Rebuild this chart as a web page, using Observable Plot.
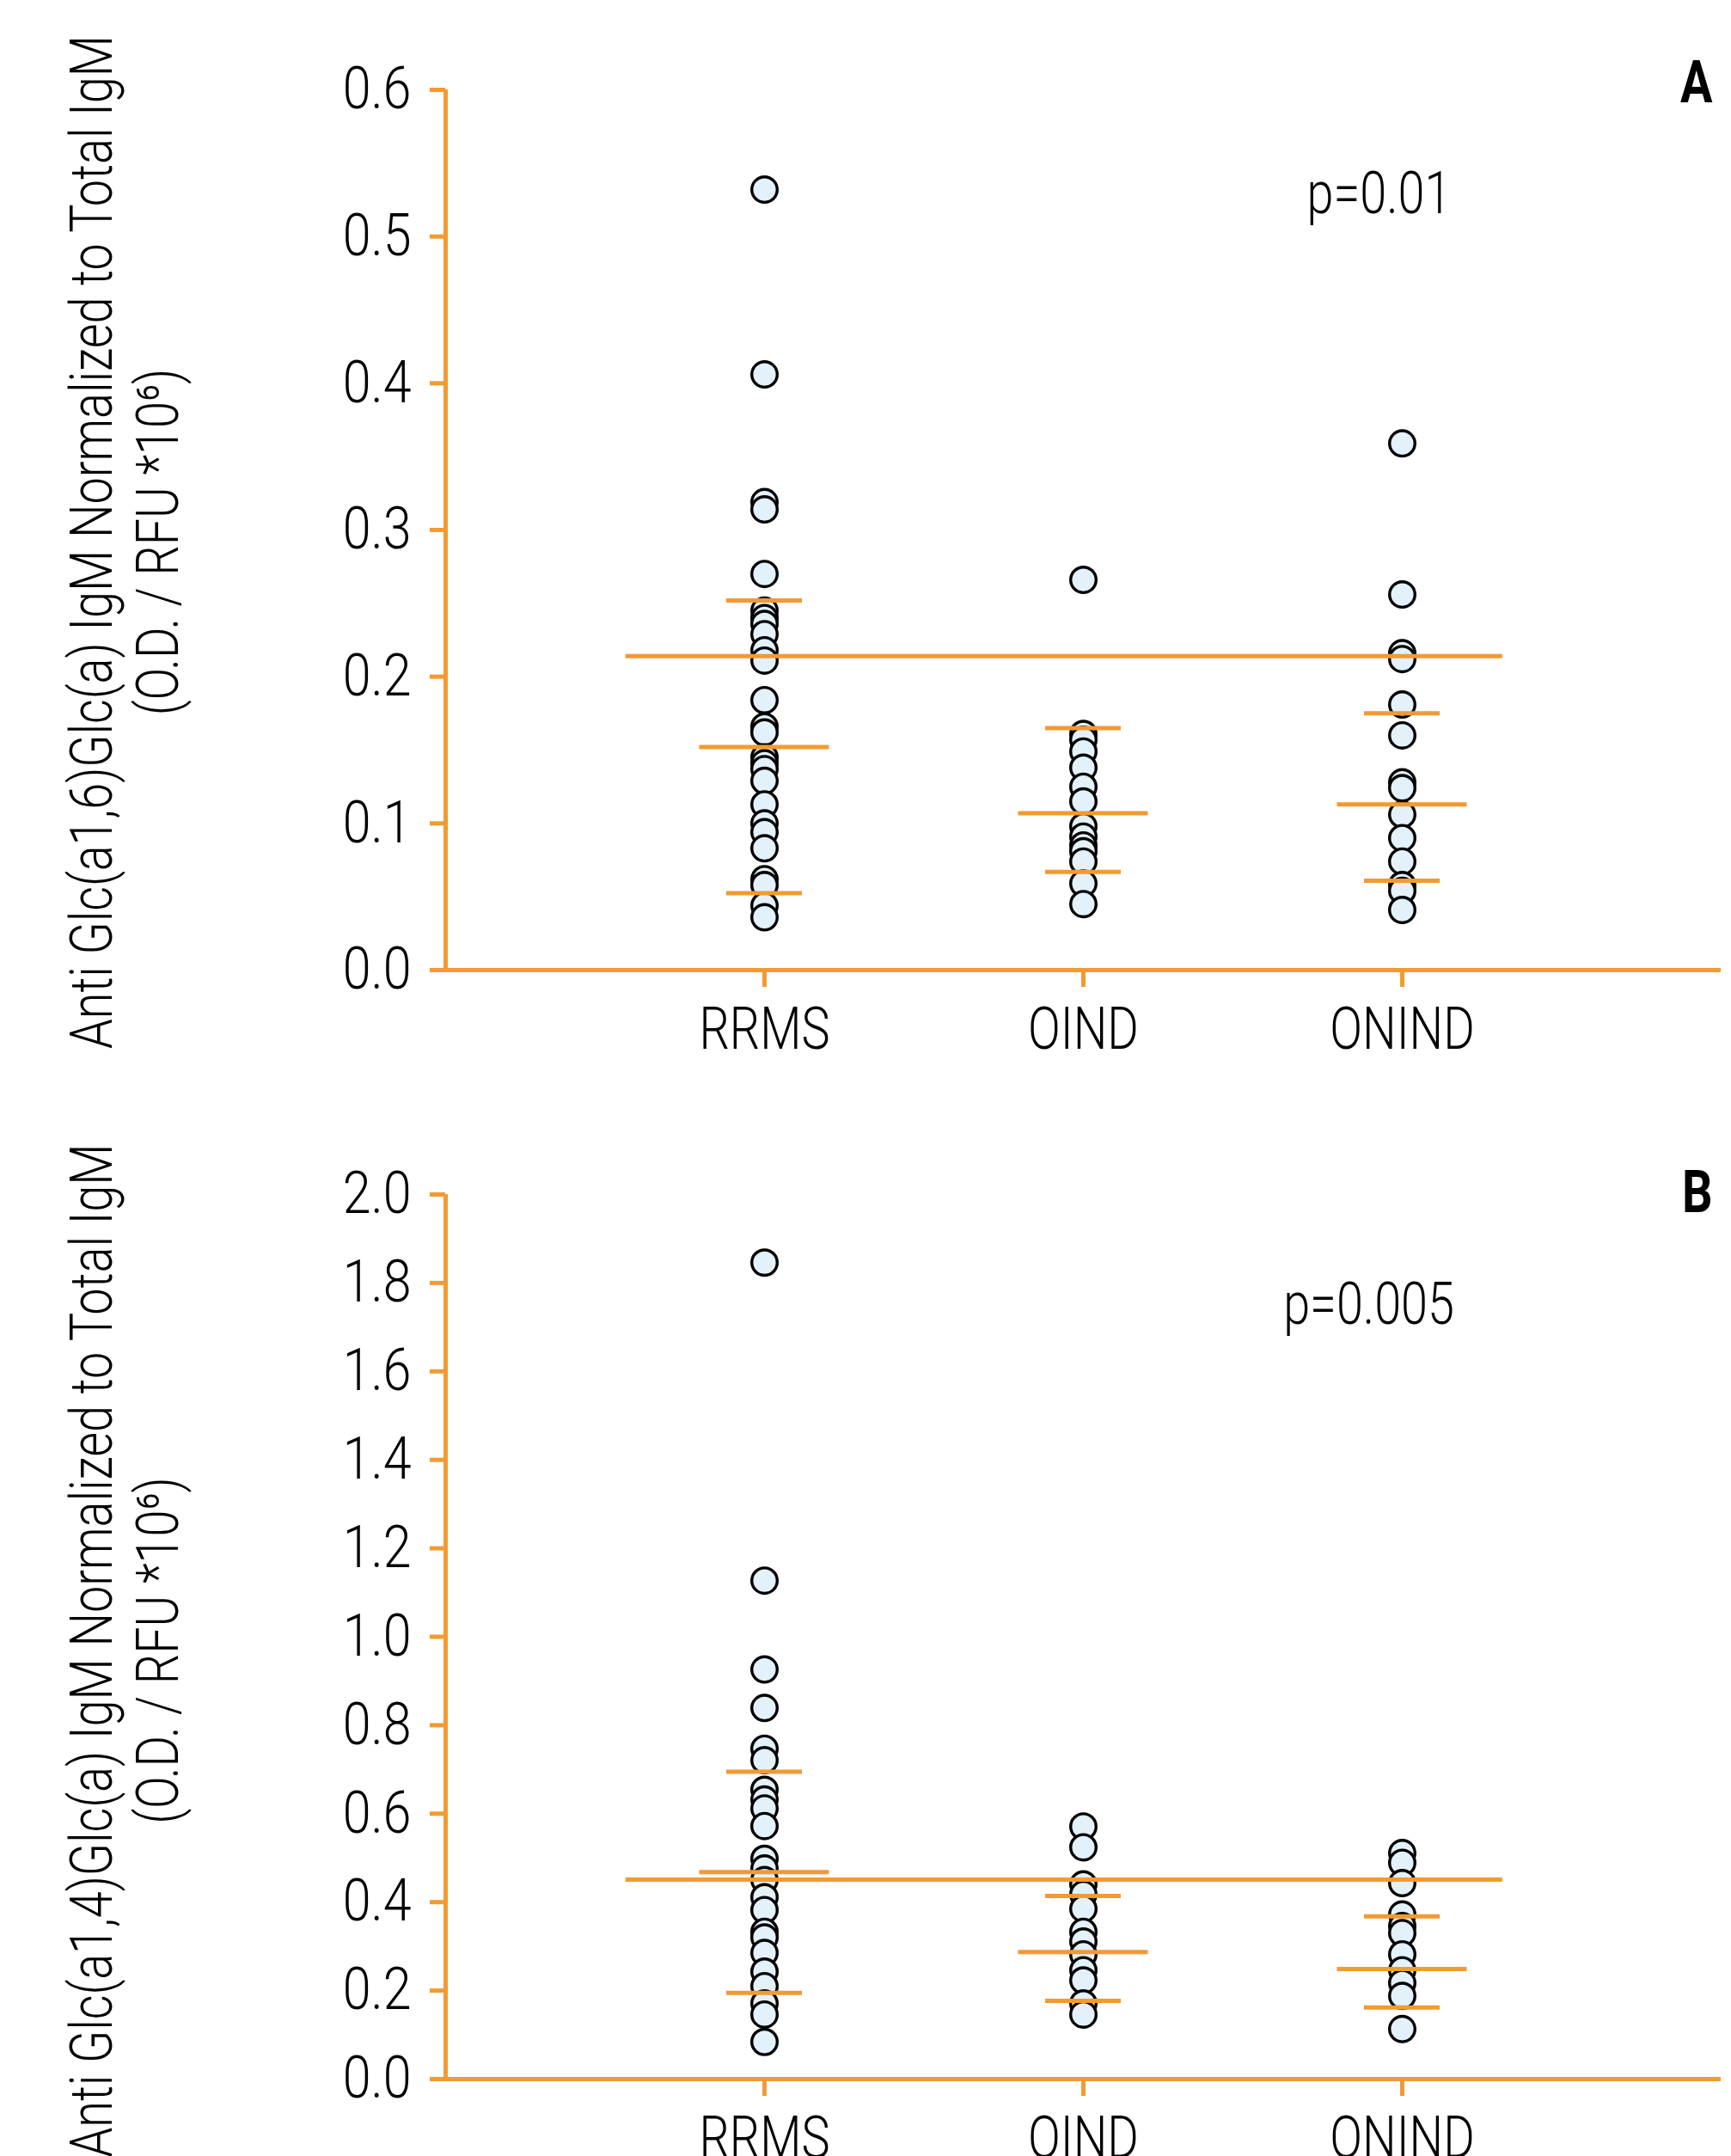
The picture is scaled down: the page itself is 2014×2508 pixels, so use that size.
<!DOCTYPE html>
<html>
<head>
<meta charset="utf-8">
<script src="https://cdn.jsdelivr.net/npm/d3@7"></script>
<script src="https://cdn.jsdelivr.net/npm/@observablehq/plot@0.6"></script>
<style>
  html, body { margin: 0; padding: 0; background: white; }
  svg { display: block; }
</style>
</head>
<body>
<div id="chart"></div>
<script>
// ---------- data ----------
const categories = ["RRMS", "OIND", "ONIND"];

// Panel A: Anti Glc(a1,6)Glc(a) IgM
const aRRMS = [0.532, 0.406, 0.319, 0.314, 0.270, 0.245, 0.240, 0.236, 0.229, 0.218, 0.211,
               0.184, 0.166, 0.162, 0.145, 0.141, 0.137, 0.129, 0.113, 0.100, 0.094, 0.083,
               0.062, 0.058, 0.044, 0.036];
const aOIND = [0.266, 0.161, 0.157, 0.149, 0.138, 0.125, 0.115, 0.098, 0.091, 0.085, 0.081, 0.074, 0.059, 0.045];
const aONIND = [0.359, 0.256, 0.216, 0.212, 0.181, 0.160, 0.128, 0.124, 0.106, 0.090, 0.074, 0.058, 0.054, 0.041];
const aOverall = 0.214;
const aMedian = [0.152, 0.107, 0.113];
const aQ1 = [0.0525, 0.067, 0.061];
const aQ3 = [0.252, 0.165, 0.175];
const aTicks = [0, 0.1, 0.2, 0.3, 0.4, 0.5, 0.6];

// Panel B: Anti Glc(a1,4)Glc(a) IgM
const bRRMS = [1.846, 1.127, 0.926, 0.839, 0.747, 0.721, 0.654, 0.632, 0.612, 0.572, 0.498,
               0.476, 0.450, 0.411, 0.382, 0.333, 0.320, 0.285, 0.243, 0.210, 0.171, 0.146, 0.084];
const bOIND = [0.571, 0.524, 0.440, 0.418, 0.385, 0.333, 0.311, 0.282, 0.246, 0.223, 0.171, 0.146];
const bONIND = [0.511, 0.489, 0.443, 0.372, 0.346, 0.330, 0.282, 0.246, 0.217, 0.188, 0.113];
const bOverall = 0.451;
const bMedian = [0.468, 0.287, 0.249];
const bQ1 = [0.195, 0.177, 0.162];
const bQ3 = [0.695, 0.414, 0.368];
const bTicks = [0, 0.2, 0.4, 0.6, 0.8, 1.0, 1.2, 1.4, 1.6, 1.8, 2.0];

const titleA = "Anti Glc(a1,6)Glc(a) IgM Normalized to Total IgM\n(O.D. / RFU *10⁶)";
const titleB = "Anti Glc(a1,4)Glc(a) IgM Normalized to Total IgM\n(O.D. / RFU *10⁶)";
const pLabels = ["p=0.01", "p=0.005"];
const panelLabels = ["A", "B"];

// ---------- style ----------
const orange = "#f29a33";
const dotFill = "#e3f1fa";
const fontFamily = "Roboto, 'Liberation Sans', 'DejaVu Sans', sans-serif";
const fs = 68;

function panel(o) {
  const rows = categories.flatMap((c, i) => o.series[i].map(v => ({xi: i + 1, v})));
  const stats = categories.map((c, i) => ({xi: i + 1, med: o.med[i], q1: o.q1[i], q3: o.q3[i]}));
  const yMax = o.ticks[o.ticks.length - 1];
  return Plot.plot({
    width: 2014,
    height: 1254,
    marginLeft: 518,
    marginRight: 12,
    marginTop: o.marginTop,
    marginBottom: o.marginBottom,
    style: {fontFamily, fontSize: fs + "px", fontWeight: 300, background: "white", overflow: "visible"},
    x: {domain: [0, 4]},
    y: {domain: [0, yMax]},
    marks: [
      Plot.ruleY([0], {stroke: orange, strokeWidth: 5}),
      Plot.ruleX([0], {y1: 0, y2: yMax, stroke: orange, strokeWidth: 5}),
      Plot.axisY(o.ticks, {tickFormat: d3.format(".1f"), tickSize: 18, tickPadding: 22,
        stroke: orange, strokeWidth: 5, fill: "black", fontSize: fs, label: null}),
      Plot.axisX([1, 2, 3], {tickFormat: i => categories[i - 1], tickSize: 20, tickPadding: 23,
        stroke: orange, strokeWidth: 5, fill: "black", fontSize: fs, label: null}),
      Plot.dot(rows, {x: "xi", y: "v", r: 14.8, fill: dotFill, stroke: "black", strokeWidth: 3.4}),
      Plot.ruleY(stats, {y: "med", x1: d => d.xi - 0.2035, x2: d => d.xi + 0.2035, stroke: orange, strokeWidth: 5}),
      Plot.ruleY(stats, {y: "q1", x1: d => d.xi - 0.1186, x2: d => d.xi + 0.1186, stroke: orange, strokeWidth: 5}),
      Plot.ruleY(stats, {y: "q3", x1: d => d.xi - 0.1186, x2: d => d.xi + 0.1186, stroke: orange, strokeWidth: 5}),
      Plot.ruleY([o.overall], {x1: 0.565, x2: 3.315, stroke: orange, strokeWidth: 5}),
      Plot.text([o.p], {x: o.pX, y: o.pY, text: d => d, fontSize: fs, fill: "black", textAnchor: "middle"}),
      Plot.text([o.letter], {frameAnchor: "top-right", text: d => d, dx: -10, dy: o.letterDy,
        textAnchor: "end", fontSize: fs, fontWeight: "bold", fill: "black"}),
      Plot.text([o.title], {frameAnchor: "left", text: d => d, rotate: -90, dx: -375, dy: o.titleDy,
        textAnchor: "middle", lineHeight: 1.13, fontSize: fs, fill: "black"})
    ]
  });
}

// squeeze labels horizontally (condensed typeface look) once they are in the document
function condenseText(svg) {
  svg.querySelectorAll("text").forEach(t => {
    const g = t.closest("g[aria-label]");
    const label = g ? g.getAttribute("aria-label") : "";
    const factor = label.startsWith("y-axis") ? 0.87 : label.startsWith("x-axis") ? 0.82 : 0.82;
    const spans = t.querySelectorAll("tspan");
    const parts = spans.length ? Array.from(spans) : [t];
    parts.forEach(el => {
      const len = el.getComputedTextLength();
      if (len > 0) {
        el.setAttribute("textLength", (len * factor).toFixed(2));
        el.setAttribute("lengthAdjust", "spacingAndGlyphs");
      }
    });
  });
}

const chart = document.getElementById("chart");
const svgA = panel({
  series: [aRRMS, aOIND, aONIND], med: aMedian, q1: aQ1, q3: aQ3, overall: aOverall,
  ticks: aTicks, marginTop: 104, marginBottom: 126,
  p: pLabels[0], pX: 2.927, pY: 0.5285,
  letter: panelLabels[0], letterDy: -34, title: titleA, titleDy: 14
});
const svgB = panel({
  series: [bRRMS, bOIND, bONIND], med: bMedian, q1: bQ1, q3: bQ3, overall: bOverall,
  ticks: bTicks, marginTop: 135, marginBottom: 90,
  p: pLabels[1], pX: 2.895, pY: 1.749,
  letter: panelLabels[1], letterDy: -28, title: titleB, titleDy: 16
});
chart.append(svgA, svgB);
condenseText(svgA);
condenseText(svgB);
</script>
</body>
</html>
